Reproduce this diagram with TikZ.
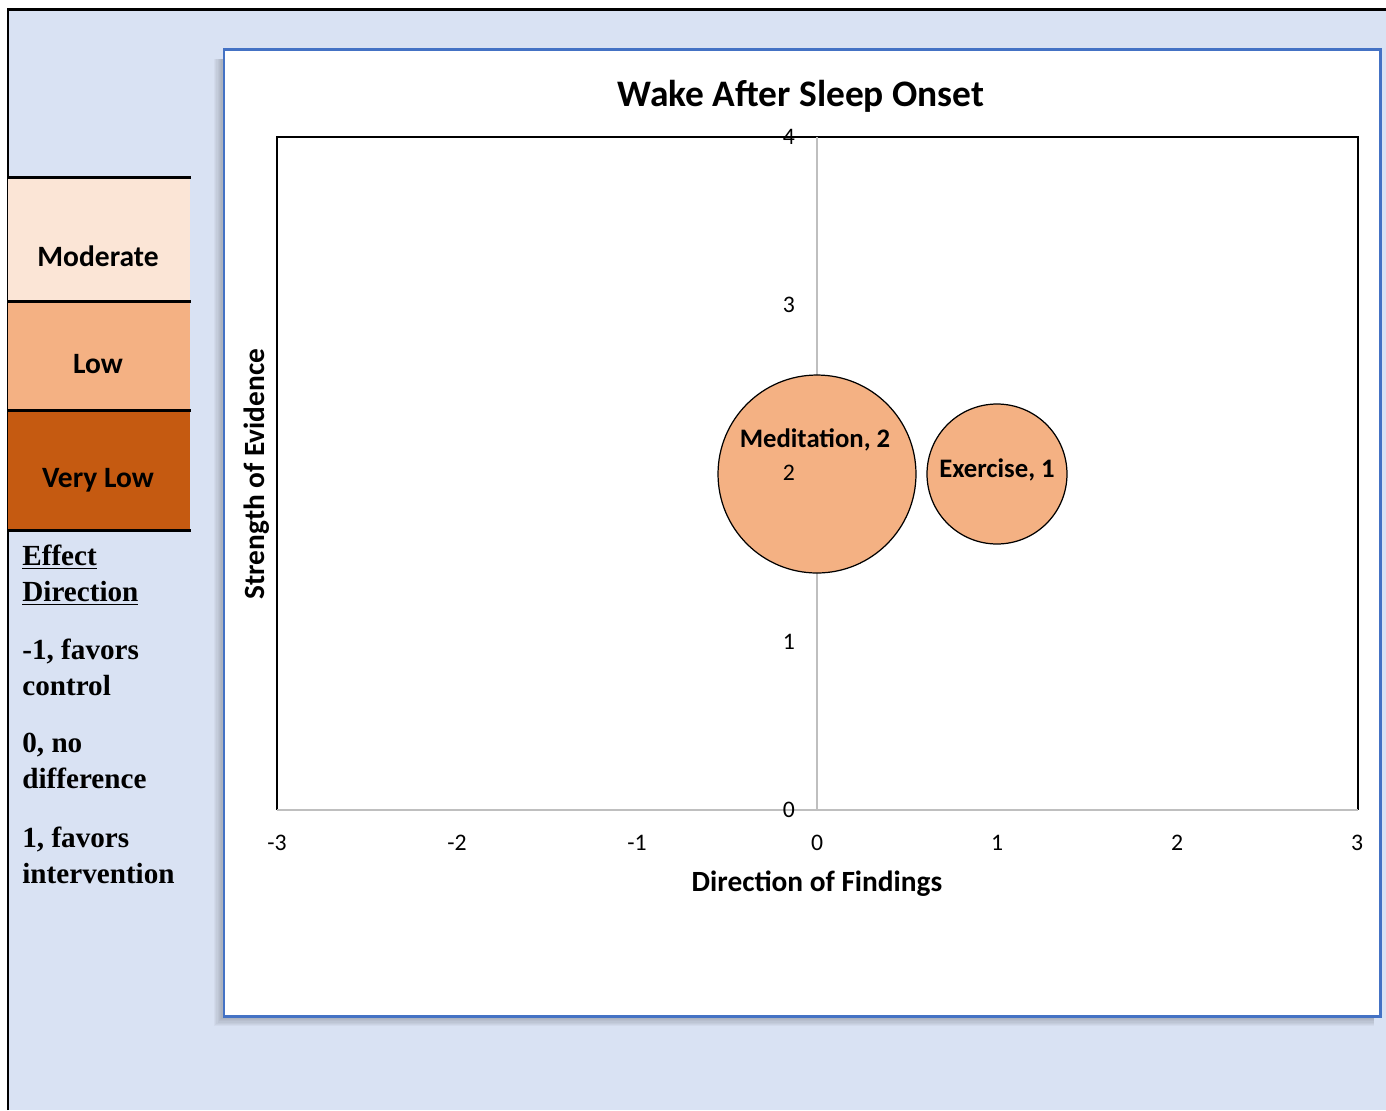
\documentclass[tikz,border=0pt]{standalone}
\usepackage{fontspec}
\setmainfont{Liberation Serif}
\newfontfamily\calibri{Carlito}
\usetikzlibrary{positioning}

\definecolor{panelblue}{HTML}{D9E2F3}
\definecolor{chartblue}{HTML}{4472C4}
\definecolor{moderatefill}{HTML}{FBE5D6}
\definecolor{lowfill}{HTML}{F4B183}
\definecolor{verylowfill}{HTML}{C55A11}
\definecolor{axisgray}{HTML}{BFBFBF}

\tikzset{
  grade/.style={inner sep=0pt, minimum width=3.64cm, anchor=north west},
  gradetext/.style={inner sep=0pt, font=\calibri\bfseries\fontsize{16.8}{20}\selectfont},
  legtext/.style={inner sep=0pt, anchor=north west, align=left,
    font=\bfseries\fontsize{16.6}{20.4}\selectfont},
  ticklabel/.style={inner sep=0pt, font=\calibri\fontsize{13.5}{16}\selectfont},
  axistitle/.style={inner sep=0pt, font=\calibri\bfseries\fontsize{16.7}{20}\selectfont},
  bubble/.style={circle, draw=black, line width=0.7pt, fill=lowfill, inner sep=0pt},
  bubbletext/.style={inner sep=0pt, font=\calibri\bfseries\fontsize{15.2}{18}\selectfont}
}

\begin{document}
\begin{tikzpicture}[x=0.02cm, y=-0.02cm]
  \useasboundingbox (0,0) rectangle (1386,1110);
  \fill[panelblue] (8,9) rectangle (1386,1110);
  \draw[line width=1.7pt] (8,1110) -- (8,9) -- (1386,9);

  % legend
  \node[grade, fill=moderatefill, minimum height=2.48cm] (moderate) at (8,177) {};
  \node[grade, fill=lowfill, minimum height=2.18cm] (low) at (8,301) {};
  \node[grade, fill=verylowfill, minimum height=2.4cm] (verylow) at (8,410) {};
  \draw[line width=1.7pt] (moderate.north west) -- (moderate.north east);
  \draw[line width=1.7pt] (low.north west) -- (low.north east);
  \draw[line width=1.7pt] (verylow.north west) -- (verylow.north east);
  \draw[line width=1.7pt] (verylow.south west) -- (verylow.south east);
  \node[gradetext] (moderatetext) at (98,256) {Moderate};
  \node[gradetext] (lowtext) at (98,364) {Low};
  \node[gradetext] (verylowtext) at (98,480) {Very Low};

  \node[legtext] (effect) at (22,545) {\underline{Effect}\\\underline{Direction}};
  \node[legtext] (favctrl) at (22,639) {-1, favors\\control};
  \node[legtext] (nodiff) at (22,733) {0, no\\difference};
  \node[legtext] (favint) at (22,827) {1, favors\\intervention};

  % chart area
  \foreach \i in {1,...,8}
    \fill[black, opacity=0.03] ({224-\i*1.3},{49+10}) rectangle ({1380-6},{1016+\i*1.3});
  \draw[chartblue, line width=1.7pt, fill=white] (224,49) rectangle (1380,1016);

  \node[inner sep=0pt, font=\calibri\bfseries\fontsize{21.3}{25}\selectfont] (title) at (801,96) {Wake After Sleep Onset};

  % plot area
  \coordinate (bl) at (277,810);
  \coordinate (tl) at (277,137);
  \coordinate (tr) at (1358,137);
  \coordinate (br) at (1358,810);
  \coordinate (ytop) at (817,137);
  \coordinate (ybot) at (817,810);
  \draw[line width=0.9pt] (bl) -- (tl) -- (tr) -- (br);
  \draw[axisgray, line width=1.4pt] (bl) -- (br);
  \draw[axisgray, line width=1.4pt] (ybot) -- (ytop);

  \foreach \v in {-3,...,3}
    \node[ticklabel] (xt\v) at ({817+180*\v},843) {\v};
  \foreach \v in {0,...,4}
    \node[ticklabel] (yt\v) at (789,{810-168.25*\v}) {\v};

  \node[axistitle] (xtitle) at (817,884) {Direction of Findings};
  \node[axistitle, rotate=90] (ytitle) at (257,474) {Strength of Evidence};

  % bubbles
  \node[bubble, minimum size=3.96cm] (meditation) at (817,474) {};
  \node[bubble, minimum size=2.8cm] (exercise) at (997,474) {};
  \node[ticklabel] (yt2b) at (789,473) {2};
  \node[bubbletext] (medlabel) at (815,440) {Meditation, 2};
  \node[bubbletext] (exlabel) at (997,470) {Exercise, 1};
\end{tikzpicture}
\end{document}
